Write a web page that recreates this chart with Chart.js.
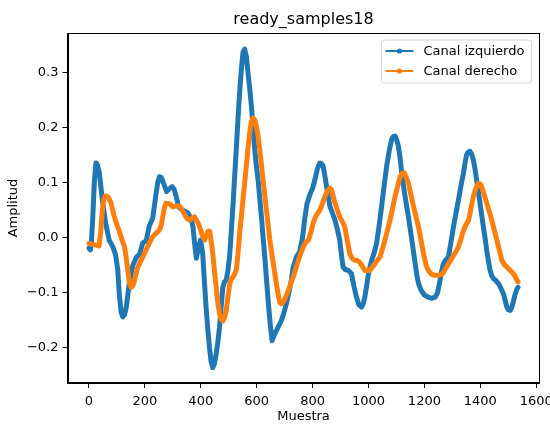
<!DOCTYPE html>
<html>
<head>
<meta charset="utf-8">
<script src="https://cdn.jsdelivr.net/npm/chart.js@4/dist/chart.umd.min.js"></script>
<style>
html,body{margin:0;padding:0;background:#fff;}
canvas{display:block;}
</style>
</head>
<body>
<canvas id="c" width="550" height="424"></canvas>
<script>
// ---- data ----
const titulo = "ready_samples18";
const serieNombres = ["Canal izquierdo", "Canal derecho"];
const xTicks = [0, 200, 400, 600, 800, 1000, 1200, 1400, 1600];
const yTicks = [-0.2, -0.1, 0.0, 0.1, 0.2, 0.3];

const izqX = [0,5,8,14,19,25,30,37,48,60,72,85,95,103,109,115,121,127,133,145,157,170,181,192,205,216,228,240,246,252,258,264,278,290,298,305,312,321,336,354,365,372,378,384,391,399,407,413,419,425,431,437,443,449,455,461,467,473,479,485,491,497,503,509,515,521,527,533,539,545,551,557,563,569,575,581,587,593,599,605,611,617,623,629,635,641,648,655,662,670,679,688,697,706,715,724,730,742,754,764,772,780,790,800,808,817,826,832,838,844,850,856,862,871,880,889,897,903,909,918,927,933,939,948,957,966,975,981,987,994,1000,1011,1020,1029,1038,1047,1056,1065,1074,1083,1089,1095,1101,1107,1113,1119,1125,1131,1137,1143,1149,1155,1161,1167,1173,1179,1188,1200,1214,1226,1238,1247,1256,1262,1268,1277,1286,1295,1304,1313,1322,1331,1340,1346,1351,1357,1363,1369,1375,1381,1387,1393,1399,1405,1411,1417,1423,1429,1435,1441,1447,1456,1465,1474,1483,1489,1495,1501,1507,1513,1519,1525,1531,1535];
const izqY = [-0.019,-0.022,-0.015,0.040,0.100,0.136,0.133,0.118,0.069,0.026,-0.004,-0.016,-0.030,-0.058,-0.105,-0.135,-0.144,-0.140,-0.128,-0.080,-0.050,-0.035,-0.030,-0.010,-0.005,0.022,0.035,0.080,0.100,0.111,0.110,0.103,0.084,0.090,0.093,0.088,0.075,0.056,0.050,0.045,0.035,0.020,-0.010,-0.037,-0.020,-0.004,-0.029,-0.080,-0.126,-0.165,-0.199,-0.225,-0.236,-0.228,-0.211,-0.190,-0.163,-0.125,-0.090,-0.080,-0.077,-0.060,-0.035,0.010,0.057,0.110,0.160,0.215,0.264,0.305,0.337,0.343,0.330,0.300,0.272,0.240,0.200,0.160,0.130,0.105,0.072,0.038,0.000,-0.035,-0.075,-0.114,-0.155,-0.187,-0.178,-0.169,-0.160,-0.151,-0.137,-0.120,-0.100,-0.077,-0.055,-0.035,-0.025,0.000,0.035,0.062,0.078,0.090,0.105,0.125,0.136,0.135,0.130,0.112,0.093,0.075,0.057,0.045,0.032,0.015,-0.004,-0.030,-0.053,-0.058,-0.059,-0.062,-0.065,-0.088,-0.108,-0.122,-0.126,-0.120,-0.108,-0.085,-0.065,-0.041,-0.028,-0.010,0.022,0.057,0.095,0.130,0.158,0.179,0.184,0.185,0.178,0.166,0.145,0.118,0.095,0.075,0.056,0.038,0.017,-0.004,-0.025,-0.047,-0.068,-0.083,-0.095,-0.104,-0.108,-0.110,-0.108,-0.100,-0.077,-0.060,-0.047,-0.040,-0.035,-0.008,0.020,0.045,0.069,0.095,0.118,0.138,0.151,0.156,0.157,0.152,0.142,0.125,0.105,0.084,0.063,0.041,0.020,0.000,-0.023,-0.042,-0.059,-0.069,-0.074,-0.078,-0.083,-0.092,-0.102,-0.114,-0.126,-0.131,-0.132,-0.126,-0.114,-0.102,-0.093,-0.090];

const derX = [0,12,24,36,42,47,52,58,64,70,79,85,91,97,103,115,121,127,133,139,145,151,157,163,175,192,210,228,240,252,258,264,270,276,288,300,312,324,333,342,351,360,369,378,387,396,405,414,420,426,432,437,443,449,455,461,467,473,479,485,491,497,503,509,515,521,527,533,539,545,551,557,563,569,575,581,587,593,599,605,611,617,623,629,635,641,647,656,665,674,683,689,695,704,713,722,731,740,749,758,767,776,785,794,803,812,826,835,844,853,862,868,874,880,889,897,906,915,924,933,942,951,960,969,978,987,996,1005,1014,1023,1032,1041,1050,1059,1068,1077,1086,1095,1104,1113,1120,1128,1135,1143,1152,1161,1170,1179,1188,1197,1206,1215,1225,1235,1250,1260,1268,1277,1286,1295,1304,1313,1322,1331,1340,1349,1358,1366,1375,1384,1393,1399,1405,1414,1423,1432,1441,1450,1459,1468,1477,1486,1495,1504,1513,1522,1531,1535];
const derY = [-0.010,-0.012,-0.013,-0.015,0.010,0.045,0.068,0.076,0.076,0.073,0.063,0.050,0.038,0.028,0.020,0.002,-0.008,-0.016,-0.035,-0.060,-0.082,-0.090,-0.087,-0.077,-0.053,-0.035,-0.016,0.002,0.008,0.014,0.022,0.038,0.055,0.063,0.062,0.056,0.058,0.058,0.050,0.043,0.035,0.032,0.036,0.038,0.030,0.020,0.005,-0.004,0.005,0.012,0.012,-0.005,-0.029,-0.060,-0.090,-0.118,-0.138,-0.148,-0.151,-0.145,-0.132,-0.108,-0.085,-0.075,-0.071,-0.066,-0.059,-0.030,0.008,0.038,0.069,0.100,0.130,0.162,0.191,0.210,0.218,0.214,0.203,0.185,0.160,0.133,0.105,0.077,0.050,0.023,-0.004,-0.035,-0.065,-0.095,-0.118,-0.120,-0.117,-0.107,-0.096,-0.083,-0.071,-0.056,-0.041,-0.028,-0.016,-0.008,-0.004,0.010,0.028,0.040,0.050,0.062,0.075,0.085,0.090,0.087,0.075,0.063,0.050,0.038,0.030,0.020,-0.005,-0.029,-0.038,-0.041,-0.041,-0.045,-0.052,-0.059,-0.060,-0.059,-0.053,-0.047,-0.041,-0.035,-0.020,-0.004,0.014,0.032,0.053,0.075,0.093,0.111,0.117,0.118,0.110,0.099,0.078,0.057,0.038,0.020,-0.005,-0.029,-0.050,-0.060,-0.066,-0.068,-0.068,-0.067,-0.063,-0.055,-0.047,-0.040,-0.032,-0.025,-0.016,-0.002,0.014,0.024,0.032,0.052,0.075,0.090,0.099,0.098,0.093,0.078,0.063,0.048,0.032,0.014,-0.004,-0.022,-0.041,-0.049,-0.053,-0.058,-0.062,-0.068,-0.077,-0.080];

// ---- styling ----
const FONT = "'DejaVu Sans', 'Liberation Sans', sans-serif";
const C0 = "#1f77b4", C1 = "#ff7f0e";
const fmt = v => v.toFixed(1).replace('-', '\u2212');

function toPts(xs, ys){ return xs.map((x,i)=>({x:x, y:ys[i]})); }

const framePlugin = {
  id: 'frameLegend',
  afterLayout(chart){
    // center the title over the plotting area, like matplotlib
    if (chart.titleBlock) {
      chart.titleBlock.left = chart.chartArea.left;
      chart.titleBlock.right = chart.chartArea.right;
    }
  },
  afterDraw(chart){
    const {ctx, chartArea:a} = chart;
    ctx.save();
    // axes frame
    ctx.strokeStyle = '#000';
    ctx.lineWidth = 1;
    ctx.strokeRect(Math.round(a.left)+0.5, Math.round(a.top)+0.5, Math.round(a.right-a.left)-1, Math.round(a.bottom-a.top)-1);
    // legend box
    const bx = a.right - 158, by = a.top + 7, bw = 150, bh = 43, r = 3;
    ctx.beginPath();
    ctx.moveTo(bx+r, by); ctx.lineTo(bx+bw-r, by); ctx.arcTo(bx+bw, by, bx+bw, by+r, r);
    ctx.lineTo(bx+bw, by+bh-r); ctx.arcTo(bx+bw, by+bh, bx+bw-r, by+bh, r);
    ctx.lineTo(bx+r, by+bh); ctx.arcTo(bx, by+bh, bx, by+bh-r, r);
    ctx.lineTo(bx, by+r); ctx.arcTo(bx, by, bx+r, by, r);
    ctx.closePath();
    ctx.fillStyle = 'rgba(255,255,255,0.8)';
    ctx.fill();
    ctx.strokeStyle = '#d6d6d6';
    ctx.stroke();
    const cols = [C0, C1];
    chart.data.datasets.forEach((ds, i) => {
      const yy = by + 11 + i*20;
      ctx.strokeStyle = cols[i];
      ctx.lineWidth = 2;
      ctx.beginPath(); ctx.moveTo(bx+4, yy); ctx.lineTo(bx+32, yy); ctx.stroke();
      ctx.fillStyle = cols[i];
      ctx.beginPath(); ctx.arc(bx+18, yy, 2.6, 0, Math.PI*2); ctx.fill();
      ctx.fillStyle = '#000';
      ctx.font = "13px " + FONT;
      ctx.textBaseline = 'middle';
      ctx.textAlign = 'left';
      ctx.fillText(ds.label, bx+42, yy+1);
    });
    ctx.restore();
  }
};

new Chart(document.getElementById('c'), {
  type: 'scatter',
  data: {
    datasets: [
      { label: serieNombres[0], data: toPts(izqX, izqY), showLine: true, borderColor: C0, backgroundColor: C0,
        borderWidth: 5, pointRadius: 0, borderJoinStyle: 'round', borderCapStyle: 'round', order: 1 },
      { label: serieNombres[1], data: toPts(derX, derY), showLine: true, borderColor: C1, backgroundColor: C1,
        borderWidth: 5, pointRadius: 0, borderJoinStyle: 'round', borderCapStyle: 'round', order: 0 }
    ]
  },
  options: {
    responsive: false,
    animation: false,
    devicePixelRatio: 1,
    layout: { padding: { left: 0, right: 10.5, top: 0, bottom: 0 } },
    plugins: {
      legend: { display: false },
      tooltip: { enabled: false },
      title: { display: true, text: titulo, color: '#000', font: { family: FONT, size: 16, weight: 'normal' },
               padding: { top: 10, bottom: 3.8 } }
    },
    scales: {
      x: {
        type: 'linear', min: -76.75, max: 1611.75,
        afterBuildTicks: s => { s.ticks = xTicks.map(v => ({value: v})); },
        afterFit: s => { s.height = 41; s.paddingLeft = 0; s.paddingRight = 0; },
        ticks: { color: '#000', font: { family: FONT, size: 13 }, padding: 6, maxRotation: 0,
                 callback: v => String(v) },
        grid: { drawOnChartArea: false, drawTicks: true, tickLength: 5, color: '#000' },
        border: { display: true, color: '#000' },
        title: { display: true, text: 'Muestra', color: '#000', font: { family: FONT, size: 13 }, padding: { top: 0, bottom: 0 } }
      },
      y: {
        type: 'linear', min: -0.2639, max: 0.3722,
        afterBuildTicks: s => { s.ticks = yTicks.map(v => ({value: v})); },
        afterFit: s => { s.width = 67.5; s.paddingTop = 0; s.paddingBottom = 0; },
        ticks: { color: '#000', font: { family: FONT, size: 13 }, padding: 4, callback: v => fmt(v) },
        grid: { drawOnChartArea: false, drawTicks: true, tickLength: 5, color: '#000' },
        border: { display: true, color: '#000' },
        title: { display: true, text: 'Amplitud', color: '#000', font: { family: FONT, size: 13 }, padding: { top: 6, bottom: 0 } }
      }
    }
  },
  plugins: [framePlugin]
});
</script>
</body>
</html>
